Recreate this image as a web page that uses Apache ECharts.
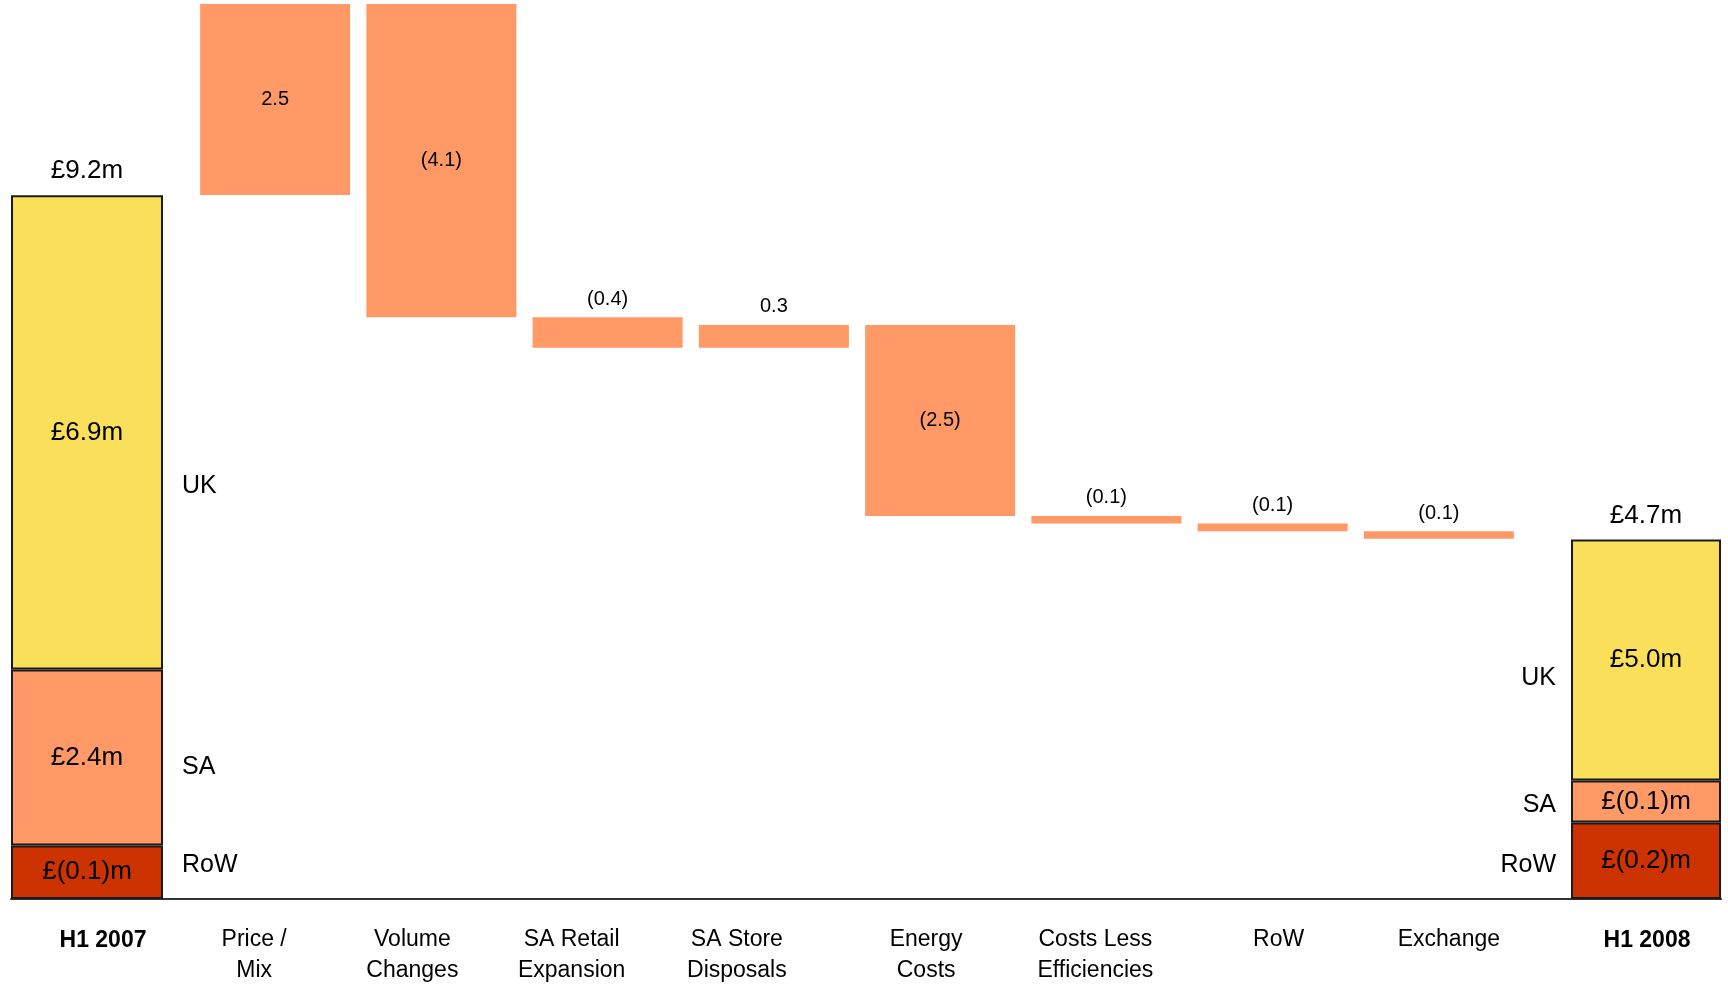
<!DOCTYPE html>
<html>
<head>
<meta charset="utf-8">
<script src="https://cdn.jsdelivr.net/npm/echarts@6/dist/echarts.min.js"></script>
<style>
  html, body { margin: 0; padding: 0; background: #fff; }
  #chart { width: 1728px; height: 986px; }
</style>
</head>
<body>
<div id="chart"></div>
<script>
// categories along the bottom
const categories = ['H1 2007', 'Price /\nMix', 'Volume\nChanges', 'SA Retail\nExpansion', 'SA Store\nDisposals',
  'Energy\nCosts', 'Costs Less\nEfficiencies', 'RoW', 'Exchange', 'H1 2008'];

// waterfall: opening total, movements, closing total (£m)
const startTotal = 9.2;
const changes = [2.5, -4.1, -0.4, 0.3, -2.5, -0.1, -0.1, -0.1];
const endTotal = 4.7;

// segment values printed on the total bars [H1 2007, H1 2008]
const ukValues = [6.9, 5.0];
const saValues = [2.4, -0.1];
const rowValues = [-0.1, -0.2];

// segment heights as drawn in the picture (not to scale with the printed values)
const ukDrawn = [6.2, 3.15];
const saDrawn = [2.3, 0.55];
const rowDrawn = [0.7, 1.0];

const n = categories.length;
const FONT = '"Liberation Sans", Arial, sans-serif';
const YELLOW = '#FAE05A', SALMON = '#FF9966', RED = '#CC3300';
const Y_MAX = 11.7;

// the category labels in the original are not centred under their bars (px, + = right)
const labelShift = [16, -21, -29, -36, -37, -14, -11, 6, 10, 1];

const fmtPounds = v => '£' + (v < 0 ? '(' + Math.abs(v).toFixed(1) + ')' : v.toFixed(1)) + 'm';
const fmtChange = v => v < 0 ? '(' + Math.abs(v).toFixed(1) + ')' : v.toFixed(1);

// floating bar bases and heights
const base = [];
const delta = [];
let level = startTotal;
changes.forEach(c => {
  const prev = level;
  level = +(level + c).toFixed(2);
  base.push(Math.min(prev, level));
  delta.push({
    value: Math.abs(c),
    label: Math.abs(c) >= 1
      ? { position: 'inside' }
      : { position: 'top', distance: 8 }
  });
});

const gridTop = 4, gridBottom = 87;
// grid 0: frame for the baseline, 1: H1 2007, 2: movements, 3: H1 2008
const grids = [
  { left: 11, right: 7, top: gridTop, bottom: gridBottom },
  { left: 11, width: 152, top: gridTop, bottom: gridBottom },
  { left: 192, width: 1330, top: gridTop, bottom: gridBottom },
  { left: 1571, width: 150, top: gridTop, bottom: gridBottom }
];

const catItem = i => {
  const s = labelShift[i];
  return {
    value: categories[i],
    textStyle: { padding: s > 0 ? [0, 0, 0, 2 * s] : [0, -2 * s, 0, 0] }
  };
};

const catAxis = (gridIndex, idx) => ({
  type: 'category',
  gridIndex: gridIndex,
  data: idx.map(catItem),
  axisLine: { show: false },
  axisTick: { show: false },
  axisLabel: {
    interval: 0,
    margin: 26,
    color: '#000',
    fontFamily: FONT,
    fontSize: 23,
    lineHeight: 31,
    fontWeight: (gridIndex === 2) ? 'normal' : 'bold'
  }
});

const midIdx = categories.map((c, i) => i).slice(1, n - 1);

const xAxes = [
  {
    type: 'value', gridIndex: 0, min: 0, max: 1,
    axisLine: { show: true, lineStyle: { color: '#333', width: 2 } },
    axisTick: { show: false }, axisLabel: { show: false }, splitLine: { show: false }
  },
  catAxis(1, [0]),
  catAxis(2, midIdx),
  catAxis(3, [n - 1])
];
const yAxes = [0, 1, 2, 3].map(g => ({
  type: 'value', gridIndex: g, min: 0, max: Y_MAX, show: false, splitLine: { show: false }
}));

// stacked total bar (k: 0 = H1 2007, 1 = H1 2008)
function endSeries(k) {
  const axis = k === 0 ? 1 : 3;
  const side = k === 0 ? 'right' : 'left';
  const nameOffsets = k === 0
    ? { RoW: [0, -7], SA: [0, 10], UK: [0, 54] }
    : { RoW: [0, 4], SA: [0, 4], UK: [0, 18] };
  const parts = [
    ['RoW', rowDrawn[k], rowValues[k], RED],
    ['SA', saDrawn[k], saValues[k], SALMON],
    ['UK', ukDrawn[k], ukValues[k], YELLOW]
  ];
  const out = [];
  parts.forEach(([name, drawn, printed, color]) => {
    out.push({
      name: name, type: 'bar', xAxisIndex: axis, yAxisIndex: axis,
      stack: 'seg' + k, barWidth: '100%', barGap: '-100%',
      data: [drawn],
      itemStyle: { color: color, borderColor: '#1a1a1a', borderWidth: 2 },
      label: {
        show: true, position: 'inside', color: '#000', fontFamily: FONT, fontSize: 26,
        formatter: () => fmtPounds(printed)
      }
    });
    out.push({
      name: name + ' name', type: 'bar', xAxisIndex: axis, yAxisIndex: axis,
      stack: 'names' + k, barWidth: '100%', barGap: '-100%',
      data: [drawn],
      itemStyle: { color: 'rgba(0,0,0,0)' },
      label: {
        show: true, position: side, distance: side === 'right' ? 19 : 15,
        offset: nameOffsets[name],
        color: '#000', fontFamily: FONT, fontSize: 25, formatter: name
      }
    });
  });
  out.push({
    name: 'total', type: 'bar', xAxisIndex: axis, yAxisIndex: axis,
    stack: 'total' + k, barWidth: '100%', barGap: '-100%',
    data: [k === 0 ? startTotal : endTotal],
    itemStyle: { color: 'rgba(0,0,0,0)' },
    label: {
      show: true, position: 'top', distance: 11, color: '#000', fontFamily: FONT, fontSize: 26,
      formatter: p => fmtPounds(p.value)
    }
  });
  return out;
}

const chart = echarts.init(document.getElementById('chart'));
chart.setOption({
  animation: false,
  grid: grids,
  xAxis: xAxes,
  yAxis: yAxes,
  series: [
    ...endSeries(0),
    {
      name: 'base', type: 'bar', xAxisIndex: 2, yAxisIndex: 2,
      stack: 'wf', barWidth: 150, barGap: '-100%',
      data: base,
      itemStyle: { color: 'rgba(0,0,0,0)' }
    },
    {
      name: 'change', type: 'bar', xAxisIndex: 2, yAxisIndex: 2,
      stack: 'wf', barWidth: 150, barGap: '-100%',
      data: delta,
      itemStyle: { color: SALMON },
      label: {
        show: true, color: '#000', fontFamily: FONT, fontSize: 20,
        formatter: p => fmtChange(changes[p.dataIndex])
      }
    },
    ...endSeries(1)
  ]
});
window.addEventListener('resize', () => chart.resize());
</script>
</body>
</html>
